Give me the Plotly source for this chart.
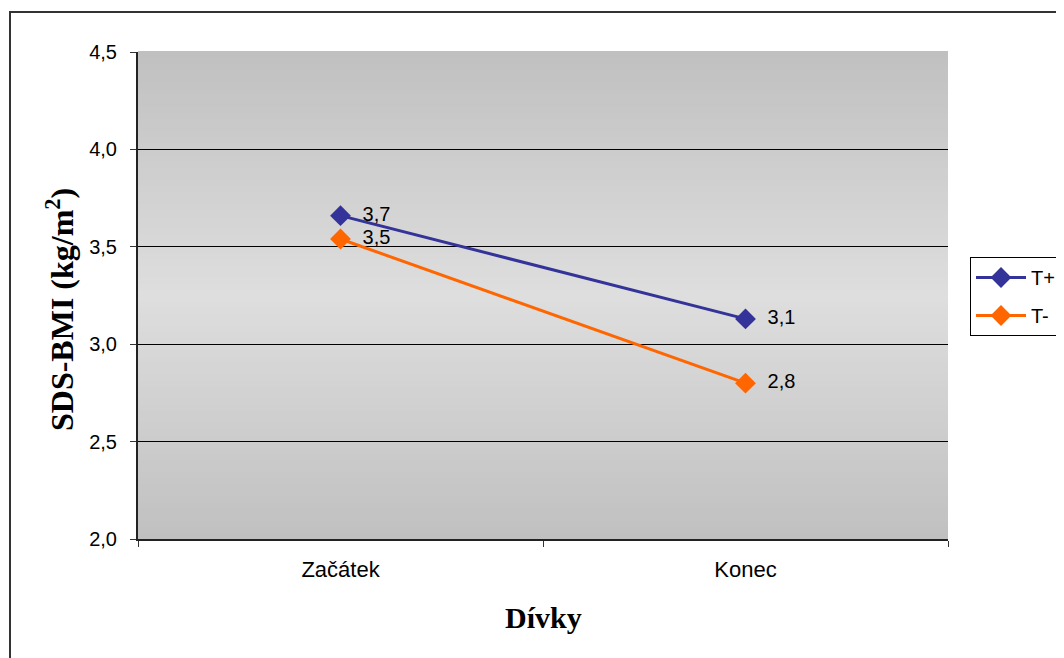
import plotly.graph_objects as go

categories = ["Začátek", "Konec"]
series_names = ["T+", "T-"]
t_plus = [3.66, 3.13]
t_minus = [3.54, 2.80]
series_colors = ["#333399", "#FF6600"]
y_ticks = [2.0, 2.5, 3.0, 3.5, 4.0, 4.5]

OFF = 8  # page body margin
W, H = 1064 - OFF, 658 - OFF
L, T = 138 - OFF, 52 - OFF
pw, ph = 810, 487
R, B = W - L - pw, H - T - ph

def px_x(x):  # window px -> paper x
    return (x - OFF - L) / pw

def px_y(y):  # window px -> paper y
    return (T + ph - (y - OFF)) / ph

def lab(v):
    return "\u00a0\u00a0" + f"{v:.1f}".replace(".", ",")

fig = go.Figure()
for name, vals, col in zip(series_names, [t_plus, t_minus], series_colors):
    fig.add_trace(go.Scatter(
        x=categories, y=vals, name=name, mode="lines+markers+text",
        line=dict(color=col, width=3),
        marker=dict(symbol="diamond", size=16, color=col),
        text=[lab(v) for v in vals], textposition="middle right",
        textfont=dict(family="Liberation Sans, Arial", size=20, color="black"),
        legendgroup=name, cliponaxis=False,
    ))

# gradient background stripes
n = 80
shapes = []
for i in range(n):
    t = (i + 0.5) / n
    d = abs(t - 0.5) * 2
    c = int(round(222 - (222 - 192) * d))
    shapes.append(dict(type="rect", xref="x domain", yref="y domain",
                       x0=0, x1=1, y0=i / n, y1=(i + 1) / n + 0.002,
                       fillcolor=f"rgb({c},{c},{c})", line=dict(width=0),
                       layer="below"))
# outer border
shapes.append(dict(type="rect", xref="paper", yref="paper",
                   x0=px_x(10), x1=px_x(1100),
                   y0=px_y(700), y1=px_y(12),
                   line=dict(color="#333333", width=2), fillcolor="rgba(0,0,0,0)"))

fig.update_layout(
    width=W, height=H, margin=dict(l=L, r=R, t=T, b=B, autoexpand=False),
    paper_bgcolor="white", plot_bgcolor="rgba(0,0,0,0)",
    separators=",.",
    shapes=shapes,
    showlegend=True,
    legend=dict(x=px_x(970), y=px_y(257), xanchor="left", yanchor="top",
                bordercolor="black", borderwidth=1, bgcolor="white",
                font=dict(family="Liberation Sans, Arial", size=20, color="black"),
                traceorder="grouped", tracegroupgap=9, itemwidth=50),
    xaxis=dict(type="category", range=[-0.5, 1.5], tickson="boundaries",
               ticks="outside", ticklen=6, tickcolor="#333333", tickwidth=1,
               showline=True, linecolor="#222222", linewidth=2, showgrid=False,
               tickfont=dict(family="Liberation Sans, Arial", size=22, color="black"),
               ticklabelstandoff=10, zeroline=False),
    yaxis=dict(range=[2.0, 4.5], tickvals=y_ticks, tickformat=".1f",
               ticks="outside", ticklen=6, tickcolor="#333333", tickwidth=1,
               showline=True, linecolor="#222222", linewidth=2,
               showgrid=True, gridcolor="black", gridwidth=1, zeroline=False,
               tickfont=dict(family="Liberation Sans, Arial", size=20, color="black"),
               ticklabelstandoff=9),
    annotations=[
        dict(text="<b>SDS-BMI (kg/m<sup>2</sup>)</b>", xref="paper", yref="paper",
             x=px_x(60), y=px_y(310), textangle=-90, showarrow=False,
             xanchor="center", yanchor="middle",
             font=dict(family="Liberation Serif, Times New Roman", size=32, color="black")),
        dict(text="<b>Dívky</b>", xref="paper", yref="paper",
             x=px_x(543), y=px_y(617), showarrow=False,
             xanchor="center", yanchor="middle",
             font=dict(family="Liberation Serif, Times New Roman", size=30, color="black")),
    ],
)
fig.write_html("out.html")
